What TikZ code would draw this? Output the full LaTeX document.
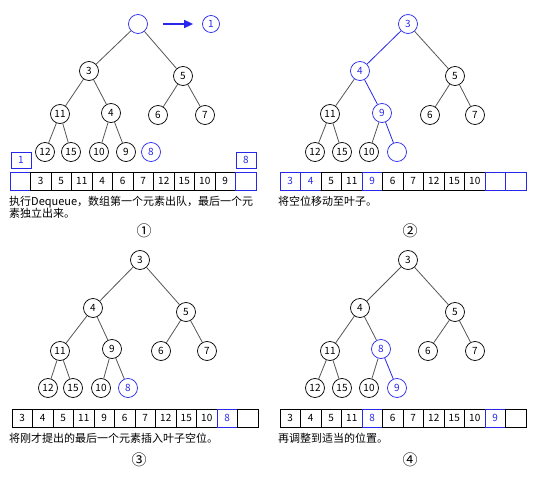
\documentclass[tikz,border=0pt]{standalone}
\usepackage{fontspec}
\setmainfont{Noto Sans CJK SC}
\usetikzlibrary{arrows.meta}
\definecolor{hblue}{RGB}{40,40,235}
\definecolor{edgegray}{RGB}{85,85,85}
\tikzset{
  key/.style={circle,draw=black,line width=0.75pt,minimum size=19pt,inner sep=0pt,font=\fontsize{10}{12}\selectfont},
  hkey/.style={key,draw=hblue,text=hblue},
  cell/.style={rectangle,draw=black,line width=0.75pt,minimum width=20.5pt,minimum height=18pt,inner sep=0pt,font=\fontsize{10}{12}\selectfont},
  hcell/.style={cell,draw=hblue,text=hblue},
  link/.style={draw=edgegray,line width=0.8pt},
  hlink/.style={draw=hblue,line width=0.8pt},
  note/.style={anchor=north west,align=left,inner sep=0pt,font=\fontsize{11}{13}\selectfont},
  tag/.style={inner sep=0pt,font=\fontsize{15}{16}\selectfont}
}
\begin{document}
\begin{tikzpicture}[x=1pt,y=-1pt]
\useasboundingbox (0,0) rectangle (533,480);

% step 1: dequeue
\node[hkey] (a0) at (138,24) {};
\node[hkey,minimum size=17pt] (aout) at (211,24) {1};
\draw[hblue,line width=1.4pt,shorten <=15pt,shorten >=9pt,-{Triangle[length=9pt,width=8pt]}] (a0) -- (aout);
\node[key] (a3) at (89,71) {3};
\node[key] (a5) at (183,76) {5};
\node[key] (a11) at (60,114) {11};
\node[key] (a4) at (111,113) {4};
\node[key] (a6) at (158,115) {6};
\node[key] (a7) at (205,115) {7};
\node[key] (a12) at (45,152) {12};
\node[key] (a15) at (71,152) {15};
\node[key] (a10) at (99,152) {10};
\node[key] (a9) at (126,152) {9};
\node[hkey] (a8) at (151,152) {8};
\foreach \u/\w in {a0/a3,a0/a5,a3/a11,a3/a4,a5/a6,a5/a7,a11/a12,a11/a15,a4/a10,a4/a9}
  \draw[link] (\u) -- (\w);
\node[hcell,minimum width=20pt,minimum height=16pt] (afirst) at (21,160) {1};
\node[hcell,minimum width=20pt,minimum height=16pt] (alast) at (246,160) {8};
\foreach \v/\s [count=\i] in {/hcell,3/cell,5/cell,11/cell,4/cell,6/cell,7/cell,12/cell,15/cell,10/cell,9/cell,/hcell}
  \node[\s] (ac\i) at (20.5*\i-0.25,181) {\v};
\node[note] (atext) at (9,195.5) {执行Dequeue，数组第一个元素出队，最后一个元\\素独立出来。};
\node[tag] (anum) at (144,231) {①};

% step 2: move hole down
\node[hkey] (b3) at (408,24) {3};
\node[hkey] (b4) at (360,71) {4};
\node[key] (b5) at (455,76) {5};
\node[key] (b11) at (330,114) {11};
\node[hkey] (b9) at (382,113) {9};
\node[key] (b6) at (430,115) {6};
\node[key] (b7) at (475,115) {7};
\node[key] (b12) at (315,152) {12};
\node[key] (b15) at (342,152) {15};
\node[key] (b10) at (369,152) {10};
\node[hkey] (b0) at (397,152) {};
\foreach \u/\w in {b3/b5,b4/b11,b5/b6,b5/b7,b11/b12,b11/b15,b9/b10}
  \draw[link] (\u) -- (\w);
\foreach \u/\w in {b3/b4,b4/b9,b9/b0}
  \draw[hlink] (\u) -- (\w);
\foreach \v/\s [count=\i] in {3/hcell,4/hcell,5/cell,11/cell,9/hcell,6/cell,7/cell,12/cell,15/cell,10/cell,/hcell,/hcell}
  \node[\s] (bc\i) at (269.75+20.5*\i,181) {\v};
\node[note] (btext) at (278,195.5) {将空位移动至叶子。};
\node[tag] (bnum) at (410,231) {②};

% step 3: insert last element
\node[key] (c3) at (140,260) {3};
\node[key] (c4) at (93,308) {4};
\node[key] (c5) at (186,312) {5};
\node[key] (c11) at (60,351) {11};
\node[key] (c9) at (112,349) {9};
\node[key] (c6) at (161,351) {6};
\node[key] (c7) at (207,351) {7};
\node[key] (c12) at (48,388) {12};
\node[key] (c15) at (73,388) {15};
\node[key] (c10) at (101,388) {10};
\node[hkey] (c8) at (128,388) {8};
\foreach \u/\w in {c3/c4,c3/c5,c4/c11,c4/c9,c5/c6,c5/c7,c11/c12,c11/c15,c9/c10,c9/c8}
  \draw[link] (\u) -- (\w);
\foreach \v/\s [count=\i] in {3/cell,4/cell,5/cell,11/cell,9/cell,6/cell,7/cell,12/cell,15/cell,10/cell,8/hcell,/cell}
  \node[\s] (cc\i) at (1.75+20.5*\i,418) {\v};
\node[note] (ctext) at (9,432.5) {将刚才提出的最后一个元素插入叶子空位。};
\node[tag] (cnum) at (139,460) {③};

% step 4: sift up
\node[key] (d3) at (408,260) {3};
\node[key] (d4) at (360,308) {4};
\node[key] (d5) at (455,312) {5};
\node[key] (d11) at (330,351) {11};
\node[hkey] (d8) at (381,349) {8};
\node[key] (d6) at (428,351) {6};
\node[key] (d7) at (475,351) {7};
\node[key] (d12) at (315,388) {12};
\node[key] (d15) at (342,388) {15};
\node[key] (d10) at (369,388) {10};
\node[hkey] (d9) at (397,388) {9};
\foreach \u/\w in {d3/d4,d3/d5,d4/d11,d4/d8,d5/d6,d5/d7,d11/d12,d11/d15,d8/d10}
  \draw[link] (\u) -- (\w);
\draw[hlink] (d8) -- (d9);
\foreach \v/\s [count=\i] in {3/cell,4/cell,5/cell,11/cell,8/hcell,6/cell,7/cell,12/cell,15/cell,10/cell,9/hcell,/cell}
  \node[\s] (dc\i) at (269.75+20.5*\i,418) {\v};
\node[note] (dtext) at (278,432.5) {再调整到适当的位置。};
\node[tag] (dnum) at (410,460) {④};
\end{tikzpicture}
\end{document}
